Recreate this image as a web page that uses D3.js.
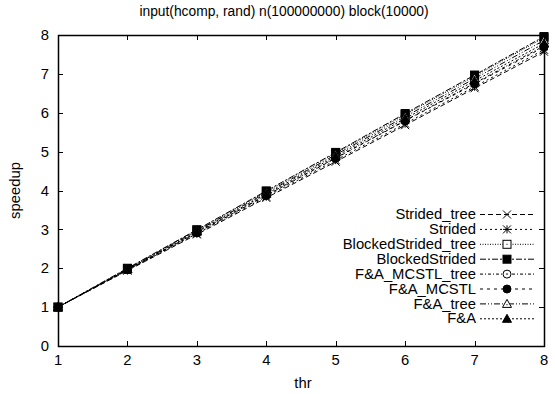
<!DOCTYPE html>
<html>
<head>
<meta charset="utf-8">
<script src="https://d3js.org/d3.v7.min.js"></script>
<style>
  body { margin: 0; background: #fff; }
  text { font-family: "Liberation Sans", Arial, sans-serif; font-size: 14.8px; fill: #000; }
  text.title { font-size: 13.8px; }
</style>
</head>
<body>
<div id="chart"></div>
<script>
// data
const threads = [1, 2, 3, 4, 5, 6, 7, 8];
const seriesNames = ["Strided_tree", "Strided", "BlockedStrided_tree", "BlockedStrided",
                     "F&A_MCSTL_tree", "F&A_MCSTL", "F&A_tree", "F&A"];
const stridedTree        = [1, 1.94, 2.87, 3.81, 4.74, 5.68, 6.63, 7.57];
const strided            = [1, 1.95, 2.89, 3.84, 4.78, 5.72, 6.67, 7.62];
const blockedStridedTree = [1, 1.99, 2.98, 3.97, 4.96, 5.95, 6.94, 7.93];
const blockedStrided     = [1, 2.00, 2.99, 3.99, 4.98, 5.98, 6.97, 7.96];
const faMcstlTree        = [1, 1.96, 2.92, 3.88, 4.84, 5.80, 6.76, 7.72];
const faMcstl            = [1, 1.96, 2.91, 3.87, 4.83, 5.79, 6.74, 7.69];
const faTree             = [1, 1.98, 2.96, 3.94, 4.92, 5.90, 6.88, 7.86];
const fa                 = [1, 1.97, 2.94, 3.91, 4.88, 5.85, 6.82, 7.78];
const allValues = [stridedTree, strided, blockedStridedTree, blockedStrided,
                   faMcstlTree, faMcstl, faTree, fa];
const xTicks = [1, 2, 3, 4, 5, 6, 7, 8];
const yTicks = [0, 1, 2, 3, 4, 5, 6, 7, 8];

const W = 555, H = 394;
const margin = { top: 35, right: 11, bottom: 48, left: 58 };
const width = W - margin.left - margin.right,
      height = H - margin.top - margin.bottom;

const svg = d3.select("#chart").append("svg")
    .attr("width", W).attr("height", H);

const g = svg.append("g")
    .attr("transform", `translate(${margin.left},${margin.top})`);

const x = d3.scaleLinear().domain([1, 8]).range([0, width]);
const y = d3.scaleLinear().domain([0, 8]).range([height, 0]);

// gnuplot-ish dash patterns and point types
const dashes = ["5,3", "2,3", "1,1.5", "6,2,2,2", "3,2,1,2", "3,4", "6,2,1,2,1,2", "2,2"];
const markers = ["cross", "star", "squareOpen", "squareFilled",
                 "circleOpen", "circleFilled", "triOpen", "triFilled"];

function drawMarker(sel, type, cx, cy) {
  const s = 4;
  const m = sel.append("g").attr("transform", `translate(${cx},${cy})`)
      .attr("stroke", "#000").attr("stroke-width", 1).attr("fill", "none");
  if (type === "cross" || type === "star") {
    m.append("path").attr("d", `M${-s},${-s}L${s},${s}M${-s},${s}L${s},${-s}`);
    if (type === "star") m.append("path").attr("d", `M${-s},0L${s},0M0,${-s}L0,${s}`);
  } else if (type.startsWith("square")) {
    m.append("rect").attr("x", -s).attr("y", -s).attr("width", 2 * s).attr("height", 2 * s)
      .attr("fill", type === "squareFilled" ? "#000" : "#fff");
    if (type === "squareOpen") m.append("rect").attr("x", -0.5).attr("y", -0.5)
      .attr("width", 1).attr("height", 1).attr("fill", "#000").attr("stroke", "none");
  } else if (type.startsWith("circle")) {
    m.append("circle").attr("r", s).attr("fill", type === "circleFilled" ? "#000" : "#fff");
    if (type === "circleOpen") m.append("circle").attr("r", 0.8).attr("fill", "#000").attr("stroke", "none");
  } else {
    m.append("path").attr("d", `M0,${-s - 0.5}L${s + 0.5},${s - 0.5}L${-s - 0.5},${s - 0.5}Z`)
      .attr("fill", type === "triFilled" ? "#000" : "#fff");
    if (type === "triOpen") m.append("circle").attr("cy", 0.8).attr("r", 0.6).attr("fill", "#000").attr("stroke", "none");
  }
}

// ticks, mirrored on all four sides, pointing inward
const tickLen = 5;
const ticks = g.append("g").attr("stroke", "#000").attr("stroke-width", 1);
xTicks.forEach(t => {
  const px = Math.round(x(t)) + 0.5;
  ticks.append("line").attr("x1", px).attr("x2", px).attr("y1", height).attr("y2", height - tickLen);
  ticks.append("line").attr("x1", px).attr("x2", px).attr("y1", 0).attr("y2", tickLen);
  g.append("text").attr("x", x(t)).attr("y", height + 19)
    .attr("text-anchor", "middle").text(t);
});
yTicks.forEach(t => {
  const py = Math.round(y(t)) + 0.5;
  ticks.append("line").attr("x1", 0).attr("x2", tickLen).attr("y1", py).attr("y2", py);
  ticks.append("line").attr("x1", width).attr("x2", width - tickLen).attr("y1", py).attr("y2", py);
  g.append("text").attr("x", -9).attr("y", y(t)).attr("dy", "0.35em")
    .attr("text-anchor", "end").text(t);
});

// series lines + points
const line = d3.line().x((d, i) => x(threads[i])).y(d => y(d));
allValues.forEach((vals, k) => {
  g.append("path").datum(vals)
    .attr("d", line)
    .attr("fill", "none").attr("stroke", "#000").attr("stroke-width", 1)
    .attr("stroke-dasharray", dashes[k]);
});
allValues.forEach((vals, k) => {
  vals.forEach((v, i) => drawMarker(g, markers[k], x(threads[i]), y(v)));
});

// plot border
g.append("rect").attr("x", 0.5).attr("y", 0.5).attr("width", width).attr("height", height)
  .attr("fill", "none").attr("stroke", "#000").attr("stroke-width", 1.5);

// legend
const legend = svg.append("g").attr("transform", "translate(476,214)");
seriesNames.forEach((name, k) => {
  const row = legend.append("g").attr("transform", `translate(0,${k * 14.9})`);
  row.append("text").attr("x", 0).attr("dy", "0.35em").attr("text-anchor", "end").text(name);
  row.append("line").attr("x1", 4).attr("x2", 58).attr("y1", 0.5).attr("y2", 0.5)
    .attr("stroke", "#000").attr("stroke-width", 1).attr("stroke-dasharray", dashes[k]);
  drawMarker(row, markers[k], 31, 0.5);
});

// titles
svg.append("text").attr("class", "title").attr("x", 284).attr("y", 16)
  .attr("text-anchor", "middle").text("input(hcomp, rand) n(100000000) block(10000)");
svg.append("text").attr("x", 303).attr("y", 388)
  .attr("text-anchor", "middle").text("thr");
svg.append("text").attr("transform", `translate(20,${margin.top + height / 2}) rotate(-90)`)
  .attr("text-anchor", "middle").text("speedup");
</script>
</body>
</html>
